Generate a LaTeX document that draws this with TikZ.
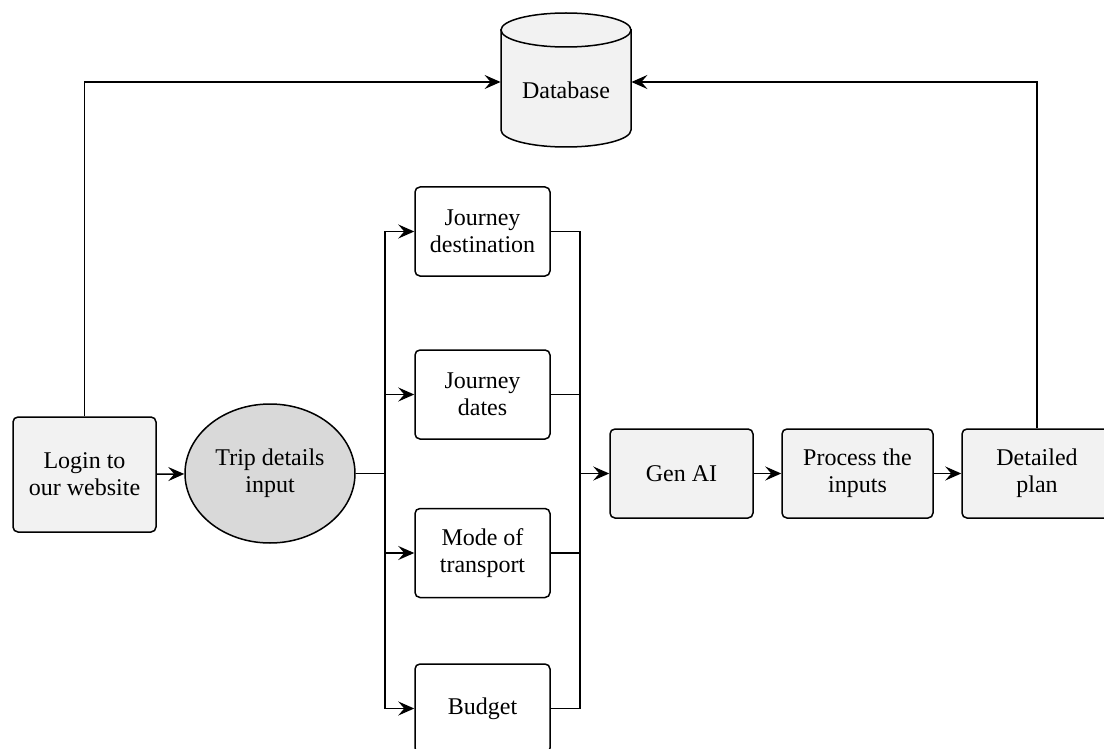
\documentclass[tikz,border=0pt]{standalone}
\usepackage{fontspec}
\setmainfont{Liberation Serif}
\newfontfamily\diagfont{Liberation Serif}
\usetikzlibrary{arrows.meta,shapes.geometric}
\definecolor{boxgray}{HTML}{F2F2F2}
\definecolor{ellgray}{HTML}{D9D9D9}
\begin{document}
\begin{tikzpicture}[x=0.5pt,y=-0.5pt,
  every node/.style={font=\diagfont\fontsize{12}{13.5}\selectfont},
  basebox/.style={rectangle,rounded corners=2.5pt,draw,line width=0.75pt,align=center,inner sep=0pt},
  graybox/.style={basebox,fill=boxgray},
  whitebox/.style={basebox,fill=white,minimum width=67.5pt,minimum height=44.5pt},
  conn/.style={line width=0.75pt},
  arr/.style={line width=0.75pt,-{Stealth[length=8pt,width=7pt,inset=3pt]}}]
\useasboundingbox (0,0) rectangle (1104,749);

% database cylinder
\node[minimum width=65pt,minimum height=67pt,inner sep=0pt] (db) at (566,82) {};
\draw[line width=0.75pt,fill=boxgray] (501,30) -- (501,130)
  arc[start angle=180,end angle=360,x radius=32.5pt,y radius=8.5pt] -- (631,30) -- cycle;
\draw[line width=0.75pt,fill=boxgray] (566,30) ellipse[x radius=32.5pt,y radius=8.5pt];
\node (dbtext) at (566,90) {Database};

% nodes
\node[graybox,minimum width=71.5pt,minimum height=57.5pt] (login) at (84.5,474.5) {Login to\\our website};
\node[ellipse,draw,line width=0.75pt,fill=ellgray,minimum width=85pt,minimum height=69.5pt,inner sep=0pt,align=center] (trip) at (270,473.5) {Trip details\\input};
\node[whitebox] (jdest) at (482.5,231.5) {Journey\\destination};
\node[whitebox] (jdates) at (482.5,394.5) {Journey\\dates};
\node[whitebox] (mode) at (482.5,553) {Mode of\\transport};
\node[whitebox] (budget) at (482.5,708.5) {Budget};
\node[graybox,minimum width=71.5pt,minimum height=44.5pt] (genai) at (681.5,473.5) {Gen AI};
\node[graybox,minimum width=75.5pt,minimum height=44.5pt] (process) at (857.5,473.5) {Process the\\inputs};
\node[graybox,minimum width=75pt,minimum height=44.5pt] (detailed) at (1037,473.5) {Detailed\\plan};

% buses
\coordinate (busL) at (385,473.5);
\coordinate (busR) at (580,473.5);

% connectors
\draw[arr] (login) -- (trip);
\draw[conn] (trip.east) -- (busL);
\draw[arr] (busL) |- (jdest.west);
\draw[arr] (busL) |- (jdates.west);
\draw[arr] (busL) |- (mode.west);
\draw[arr] (busL) |- (budget.west);
\draw[conn] (jdest.east) -| (busR);
\draw[conn] (jdates.east) -| (busR);
\draw[conn] (mode.east) -| (busR);
\draw[conn] (budget.east) -| (busR);
\draw[arr] (busR) -- (genai.west);
\draw[arr] (genai) -- (process);
\draw[arr] (process) -- (detailed);
\draw[arr] (login.north) |- (db.west);
\draw[arr] (detailed.north) |- (db.east);
\end{tikzpicture}
\end{document}
